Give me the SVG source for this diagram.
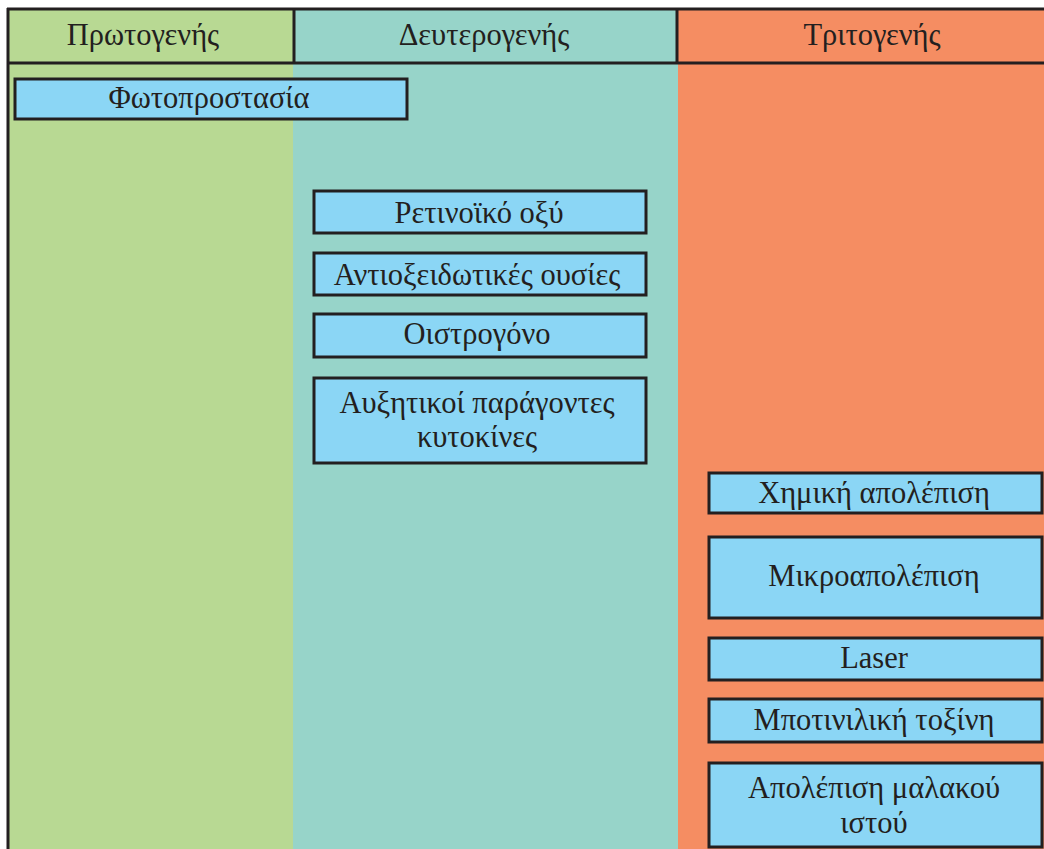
<svg xmlns="http://www.w3.org/2000/svg" width="1044" height="849" viewBox="0 0 1044 849">
<style>
.t{font-family:"Liberation Serif","DejaVu Serif",serif;font-size:30.5px;fill:#231F20;text-anchor:middle}
.b{fill:#8BD6F5;stroke:#231F20;stroke-width:3}
.ln{stroke:#231F20;stroke-width:3;fill:none}
</style>
<rect width="1044" height="849" fill="#ffffff"/>
<g id="columns">
<rect x="8" y="8" width="285" height="841" fill="#B8D993"/>
<rect x="293" y="8" width="385" height="841" fill="#97D4C9"/>
<rect x="678" y="8" width="366" height="841" fill="#F58D62"/>
</g>
<g id="header">
<line class="ln" x1="7" y1="9" x2="1044" y2="9"/>
<line class="ln" x1="7" y1="63" x2="1044" y2="63"/>
<line class="ln" x1="8" y1="8" x2="8" y2="849"/>
<line class="ln" x1="294" y1="9" x2="294" y2="63"/>
<line class="ln" x1="677" y1="9" x2="677" y2="63"/>
<text class="t" x="143" y="45">Πρωτογενής</text>
<text class="t" x="484" y="45">Δευτερογενής</text>
<text class="t" x="872" y="45">Τριτογενής</text>
</g>
<g id="n1"><rect class="b" x="15" y="79" width="392" height="40"/><text class="t" x="209" y="108">Φωτοπροστασία</text></g>
<g id="n2"><rect class="b" x="314" y="191" width="332" height="42"/><text class="t" x="479" y="223">Ρετινοϊκό οξύ</text></g>
<g id="n3"><rect class="b" x="314" y="253" width="332" height="42"/><text class="t" x="477" y="285">Αντιοξειδωτικές ουσίες</text></g>
<g id="n4"><rect class="b" x="314" y="314" width="332" height="43"/><text class="t" x="477" y="344">Οιστρογόνο</text></g>
<g id="n5"><rect class="b" x="314" y="378" width="332" height="85"/><text class="t" x="477" y="413">Αυξητικοί παράγοντες</text><text class="t" x="477" y="447">κυτοκίνες</text></g>
<g id="n6"><rect class="b" x="709" y="473" width="333" height="40"/><text class="t" x="874" y="503">Χημική απολέπιση</text></g>
<g id="n7"><rect class="b" x="709" y="537" width="333" height="81"/><text class="t" x="874" y="586">Μικροαπολέπιση</text></g>
<g id="n8"><rect class="b" x="709" y="638" width="333" height="42"/><text class="t" x="874" y="668">Laser</text></g>
<g id="n9"><rect class="b" x="709" y="699" width="333" height="43"/><text class="t" x="874" y="730">Μποτινιλική τοξίνη</text></g>
<g id="n10"><rect class="b" x="709" y="763" width="333" height="84"/><text class="t" x="874" y="798">Απολέπιση μαλακού</text><text class="t" x="874" y="833">ιστού</text></g>
<g id="connectors"/>
</svg>
